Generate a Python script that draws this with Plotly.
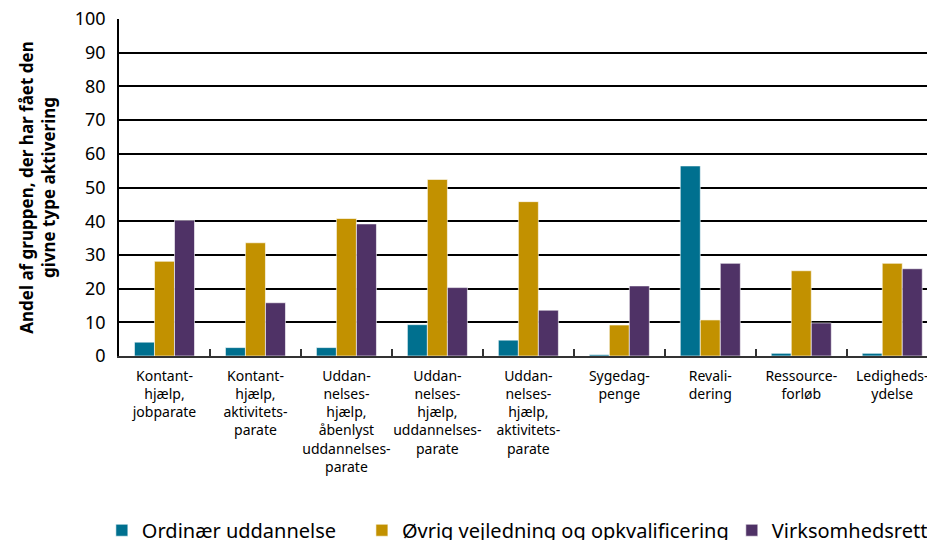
import plotly.graph_objects as go

# categories (x tick labels, line-broken as in the source)
categories = [
    "Kontant-<br>hjælp,<br>jobparate",
    "Kontant-<br>hjælp,<br>aktivitets-<br>parate",
    "Uddan-<br>nelses-<br>hjælp,<br>åbenlyst<br>uddannelses-<br>parate",
    "Uddan-<br>nelses-<br>hjælp,<br>uddannelses-<br>parate",
    "Uddan-<br>nelses-<br>hjælp,<br>aktivitets-<br>parate",
    "Sygedag-<br>penge",
    "Revali-<br>dering",
    "Ressource-<br>forløb",
    "Ledigheds-<br>ydelse",
]

ordinaer = [4.1, 2.5, 2.5, 9.3, 4.7, 0.4, 56.4, 0.8, 0.8]
oevrig = [28.1, 33.6, 40.8, 52.4, 45.8, 9.2, 10.7, 25.3, 27.5]
virksomhed = [40.3, 15.8, 39.2, 20.3, 13.6, 20.8, 27.5, 9.8, 25.9]

series_names = ["Ordinær uddannelse", "Øvrig vejledning og opkvalificering",
                "Virksomhedsrettet aktivering"]
y_ticks = [0, 10, 20, 30, 40, 50, 60, 70, 80, 90, 100]

colors = ["#00708f", "#c29100", "#4f3266"]
font = "Noto Sans"
# the last series gets its own legend so the row is not wrapped at the page edge
legend_ids = ["legend", "legend", "legend2"]
# trailing non-breaking spaces widen the first legend entry
name_pad = ["\u00a0" * 4, "", ""]

fig = go.Figure()
for name, vals, col, lg, pad in zip(series_names, [ordinaer, oevrig, virksomhed],
                                     colors, legend_ids, name_pad):
    fig.add_trace(go.Bar(
        x=categories, y=vals, name=name + pad, legend=lg,
        marker=dict(color=col, line=dict(color="rgba(255,255,255,0.6)", width=1)),
    ))

legend_style = dict(orientation="h", xanchor="left", y=-0.517, yanchor="middle",
                    font=dict(size=20, family=font), traceorder="normal")

# page body has an 8px margin, so the figure is 8px smaller than the window
fig.update_layout(
    width=927, height=532,
    margin=dict(l=111, r=0, t=11, b=184, autoexpand=False),
    plot_bgcolor="white", paper_bgcolor="white",
    barmode="group", bargap=0.34, bargroupgap=0,
    font=dict(family=font, color="black"),
    legend=dict(x=-0.021, **legend_style),
    legend2=dict(x=0.751, **legend_style),
    showlegend=True,
)

fig.update_xaxes(
    type="category", range=[-0.5, 8.47],
    tickfont=dict(size=14), tickangle=0,
    ticks="inside", tickson="boundaries", ticklen=7, tickwidth=2, tickcolor="#333",
    showline=True, linecolor="#333", linewidth=2,
    showgrid=False, zeroline=False, ticklabelstandoff=6,
)

fig.update_yaxes(
    range=[0, 100], tickvals=y_ticks,
    tickfont=dict(size=18), ticklabelstandoff=8, ticklabeloverflow="allow",
    showgrid=True, gridcolor="black", gridwidth=1.5,
    showline=True, linecolor="black", linewidth=1.5,
    zeroline=False,
    title=dict(text="<b>Andel af gruppen, der har fået den<br>givne type aktivering</b>",
               font=dict(size=17), standoff=15),
)

fig.write_html("out.html")
